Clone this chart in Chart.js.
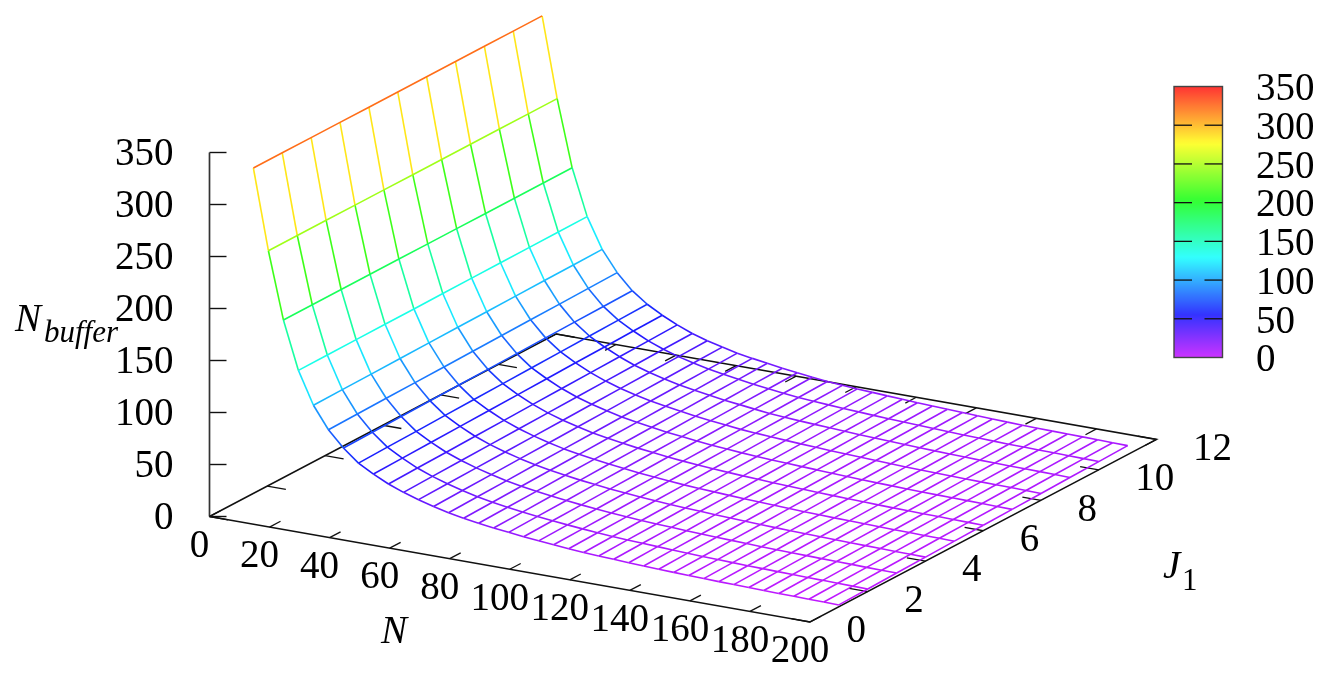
<!DOCTYPE html>
<html>
<head>
<meta charset="utf-8">
<title>N_buffer surface</title>
<script src="https://cdn.jsdelivr.net/npm/chart.js@4/dist/chart.umd.min.js"></script>
<style>
  html, body { margin: 0; padding: 0; background: #fff; }
  canvas { display: block; }
</style>
</head>
<body>
<canvas id="chart" width="1336" height="682"></canvas>
<script>
// grid
const nValues = [5, 10, 15, 20, 25, 30, 35, 40, 45, 50, 55, 60, 65, 70, 75, 80, 85, 90, 95, 100,
  105, 110, 115, 120, 125, 130, 135, 140, 145, 150, 155, 160, 165, 170, 175, 180, 185, 190, 195, 200];
const jValues = [1, 2, 3, 4, 5, 6, 7, 8, 9, 10, 11];

// one row per N, one column per J1
const bufferRows = [
  [323, 323, 323, 323, 323, 323, 323, 323, 323, 323, 323],
  [246, 246, 246, 246, 246, 246, 246, 246, 246, 246, 246],
  [182, 182, 182, 182, 182, 182, 182, 182, 182, 182, 182],
  [136, 136.2, 136.3, 136.5, 136.6, 136.8, 137, 137.1, 137.3, 137.4, 137.6],
  [105, 105.4, 105.7, 106.1, 106.5, 106.9, 107.2, 107.6, 108, 108.3, 108.7],
  [84, 84.5, 85, 85.4, 85.9, 86.4, 86.9, 87.4, 87.8, 88.3, 88.8],
  [69, 69.5, 70, 70.5, 71, 71.5, 72, 72.5, 73, 73.5, 74],
  [57, 57.7, 58.3, 59, 59.6, 60.3, 60.9, 61.6, 62.2, 62.9, 63.5],
  [49, 49.7, 50.3, 51, 51.6, 52.3, 52.9, 53.6, 54.2, 54.9, 55.5],
  [42, 42.7, 43.3, 44, 44.7, 45.4, 46, 46.7, 47.4, 48, 48.7],
  [36.5, 37.2, 37.8, 38.5, 39.1, 39.8, 40.4, 41.1, 41.7, 42.4, 43],
  [32, 32.7, 33.3, 34, 34.6, 35.3, 36, 36.6, 37.3, 37.9, 38.6],
  [28, 28.7, 29.4, 30.1, 30.8, 31.5, 32.2, 32.9, 33.6, 34.3, 35],
  [24.5, 25.2, 25.9, 26.7, 27.4, 28.1, 28.8, 29.5, 30.3, 31, 31.7],
  [21.7, 22.5, 23.2, 24, 24.7, 25.5, 26.2, 27, 27.7, 28.5, 29.2],
  [19.4, 20.2, 20.9, 21.7, 22.4, 23.2, 24, 24.7, 25.5, 26.2, 27],
  [17.4, 18.1, 18.9, 19.6, 20.4, 21.1, 21.8, 22.6, 23.3, 24.1, 24.8],
  [15.8, 16.5, 17.2, 18, 18.7, 19.4, 20.1, 20.8, 21.6, 22.3, 23],
  [14.1, 14.8, 15.5, 16.2, 16.9, 17.7, 18.4, 19.1, 19.8, 20.5, 21.2],
  [12.7, 13.4, 14.1, 14.8, 15.5, 16.2, 16.8, 17.5, 18.2, 18.9, 19.6],
  [11.4, 12.1, 12.8, 13.5, 14.2, 15, 15.7, 16.4, 17.1, 17.8, 18.5],
  [10.1, 10.9, 11.6, 12.4, 13.1, 13.9, 14.6, 15.4, 16.1, 16.9, 17.6],
  [9.1, 9.9, 10.6, 11.4, 12.2, 13, 13.7, 14.5, 15.3, 16, 16.8],
  [8.3, 9.1, 9.8, 10.6, 11.4, 12.2, 12.9, 13.7, 14.5, 15.2, 16],
  [7.6, 8.4, 9.1, 9.9, 10.6, 11.4, 12.2, 12.9, 13.7, 14.4, 15.2],
  [6.9, 7.7, 8.4, 9.2, 9.9, 10.7, 11.5, 12.2, 13, 13.7, 14.5],
  [6.3, 7.1, 7.8, 8.6, 9.3, 10.1, 10.9, 11.6, 12.4, 13.1, 13.9],
  [5.7, 6.5, 7.2, 8, 8.7, 9.5, 10.2, 11, 11.7, 12.5, 13.2],
  [5.2, 5.9, 6.7, 7.4, 8.2, 8.9, 9.6, 10.4, 11.1, 11.9, 12.6],
  [4.7, 5.4, 6.2, 6.9, 7.6, 8.4, 9.1, 9.8, 10.5, 11.3, 12],
  [4.3, 5, 5.7, 6.5, 7.2, 7.9, 8.6, 9.3, 10.1, 10.8, 11.5],
  [3.9, 4.6, 5.3, 6, 6.7, 7.5, 8.2, 8.9, 9.6, 10.3, 11],
  [3.6, 4.3, 5, 5.7, 6.4, 7.1, 7.8, 8.5, 9.2, 9.9, 10.6],
  [3.3, 4, 4.7, 5.4, 6.1, 6.8, 7.4, 8.1, 8.8, 9.5, 10.2],
  [3, 3.7, 4.4, 5.1, 5.8, 6.5, 7.2, 7.9, 8.6, 9.3, 10],
  [2.7, 3.4, 4.1, 4.8, 5.5, 6.2, 6.9, 7.6, 8.3, 9, 9.7],
  [2.5, 3.2, 3.9, 4.6, 5.3, 6, 6.7, 7.4, 8.1, 8.8, 9.5],
  [2.2, 2.9, 3.6, 4.3, 5, 5.8, 6.5, 7.2, 7.9, 8.6, 9.3],
  [2, 2.7, 3.4, 4.1, 4.8, 5.5, 6.2, 6.9, 7.6, 8.3, 9],
  [1.8, 2.5, 3.2, 3.9, 4.6, 5.3, 5.9, 6.6, 7.3, 8, 8.7],
];

const nTicks = [0, 20, 40, 60, 80, 100, 120, 140, 160, 180, 200];
const jTicks = [0, 2, 4, 6, 8, 10, 12];
const zTicks = [0, 50, 100, 150, 200, 250, 300, 350];

// view of the box: where the axes land on the page
const view = { x0: 209.5, y0: 516.5, nx: 3.0025, ny: 0.5275, jx: 28.875, jy: -15.21, zy: -1.04 };
const bar = { left: 1174, right: 1222.5, top: 86.5, bottom: 357.5 };

function project(n, j, z) {
  return {
    x: view.x0 + n * view.nx + j * view.jx,
    y: view.y0 + n * view.ny + j * view.jy + z * view.zy,
  };
}

function barY(v) {
  return bar.bottom - (v / 350) * (bar.bottom - bar.top);
}

// hsv rainbow, magenta at 0 round to red at 350
function paletteColor(z, s) {
  const h = Math.max(0, 285 - 0.814 * z);
  const f = (k) => {
    const p = (k + h / 60) % 6;
    return Math.round(255 * (1 - s * Math.max(0, Math.min(p, 4 - p, 1))));
  };
  return `rgb(${f(5)}, ${f(3)}, ${f(1)})`;
}

const datasets = [];

function addLine(data, color, width) {
  datasets.push({
    data,
    showLine: true,
    borderColor: color,
    borderWidth: width,
    pointRadius: 0,
    tension: 0,
    clip: false,
  });
}

function addSurfaceLine(points, zs) {
  addLine(points, "#8000ff", 1.6);
  // each piece takes the colour of its mean height
  datasets[datasets.length - 1].segment = {
    borderColor: (ctx) => paletteColor((zs[ctx.p0DataIndex] + zs[ctx.p1DataIndex]) / 2, 0.9),
  };
}

// first dataset ends up on top, so the surface goes in before the axes
nValues.forEach((n, i) => {
  addSurfaceLine(jValues.map((j, k) => project(n, j, bufferRows[i][k])), bufferRows[i]);
});
jValues.forEach((j, k) => {
  const zs = bufferRows.map((row) => row[k]);
  addSurfaceLine(nValues.map((n, i) => project(n, j, zs[i])), zs);
});

const axisColor = "#111";
const nMax = nTicks[nTicks.length - 1];
const jMax = jTicks[jTicks.length - 1];
const zMax = zTicks[zTicks.length - 1];

addLine([project(0, 0, 0), project(nMax, 0, 0), project(nMax, jMax, 0), project(0, jMax, 0), project(0, 0, 0)], axisColor, 1.5);
addLine([project(0, 0, 0), project(0, 0, zMax)], "#333", 1.7);

nTicks.forEach((n) => {
  addLine([project(n, 0, 0), project(n, 0.38, 0)], axisColor, 1.3);
  addLine([project(n, jMax, 0), project(n, jMax - 0.38, 0)], axisColor, 1.3);
});
jTicks.forEach((j) => {
  addLine([project(0, j, 0), project(6.2, j, 0)], axisColor, 1.3);
  addLine([project(nMax, j, 0), project(nMax - 6.2, j, 0)], axisColor, 1.3);
});
zTicks.forEach((z) => {
  const p = project(0, 0, z);
  addLine([p, { x: p.x + 17, y: p.y }], axisColor, 1.4);
  if (z > 0 && z < zMax) {
    addLine([{ x: bar.left, y: barY(z) }, { x: bar.left + 18, y: barY(z) }], axisColor, 1.3);
    addLine([{ x: bar.right - 18, y: barY(z) }, { x: bar.right, y: barY(z) }], axisColor, 1.3);
  }
});

const colorBarPlugin = {
  id: "colorBar",
  beforeDatasetsDraw(chart) {
    const { ctx } = chart;
    const gradient = ctx.createLinearGradient(0, bar.bottom, 0, bar.top);
    for (let v = 0; v <= 350; v += 5) {
      gradient.addColorStop(v / 350, paletteColor(v, 0.8));
    }
    ctx.save();
    ctx.fillStyle = gradient;
    ctx.fillRect(bar.left, bar.top, bar.right - bar.left, bar.bottom - bar.top);
    ctx.strokeStyle = "#444";
    ctx.lineWidth = 1.4;
    ctx.strokeRect(bar.left, bar.top, bar.right - bar.left, bar.bottom - bar.top);
    ctx.restore();
  },
};

const labelPlugin = {
  id: "labels",
  afterDatasetsDraw(chart) {
    const { ctx, scales } = chart;
    const px = (p) => ({ x: scales.x.getPixelForValue(p.x), y: scales.y.getPixelForValue(p.y) });
    const font = '39px "Liberation Serif"';
    const italic = 'italic 39px "Liberation Serif"';
    const italicSmall = 'italic 31px "Liberation Serif"';
    const small = '31px "Liberation Serif"';
    ctx.save();
    ctx.fillStyle = "#000";
    ctx.textBaseline = "middle";
    ctx.font = font;

    ctx.textAlign = "center";
    nTicks.forEach((n) => {
      const p = px(project(n, 0, 0));
      ctx.fillText(String(n), p.x - 10, p.y + 30);
    });

    ctx.textAlign = "left";
    jTicks.forEach((j) => {
      const p = px(project(nMax, j, 0));
      ctx.fillText(String(j), p.x + 36.5, p.y + 10);
    });
    zTicks.forEach((z) => {
      ctx.fillText(String(z), 1256, barY(z) + 3.5);
    });

    ctx.textAlign = "right";
    zTicks.forEach((z) => {
      const p = px(project(0, 0, z));
      ctx.fillText(String(z), 173.5, p.y + 2);
    });

    ctx.textAlign = "left";
    ctx.textBaseline = "alphabetic";
    ctx.font = italic;
    ctx.fillText("N", 15, 331);
    ctx.fillText("N", 381, 643);
    ctx.fillText("J", 1163, 578);
    ctx.font = italicSmall;
    ctx.fillText("buffer", 44, 342);
    ctx.font = small;
    ctx.fillText("1", 1182, 590);
    ctx.restore();
  },
};

new Chart(document.getElementById("chart"), {
  type: "scatter",
  data: { datasets },
  options: {
    responsive: false,
    animation: false,
    layout: { padding: 0 },
    scales: {
      x: { type: "linear", min: 0, max: 1336, display: false },
      y: { type: "linear", min: 0, max: 682, reverse: true, display: false },
    },
    plugins: { legend: { display: false }, tooltip: { enabled: false } },
  },
  plugins: [colorBarPlugin, labelPlugin],
});
</script>
</body>
</html>
